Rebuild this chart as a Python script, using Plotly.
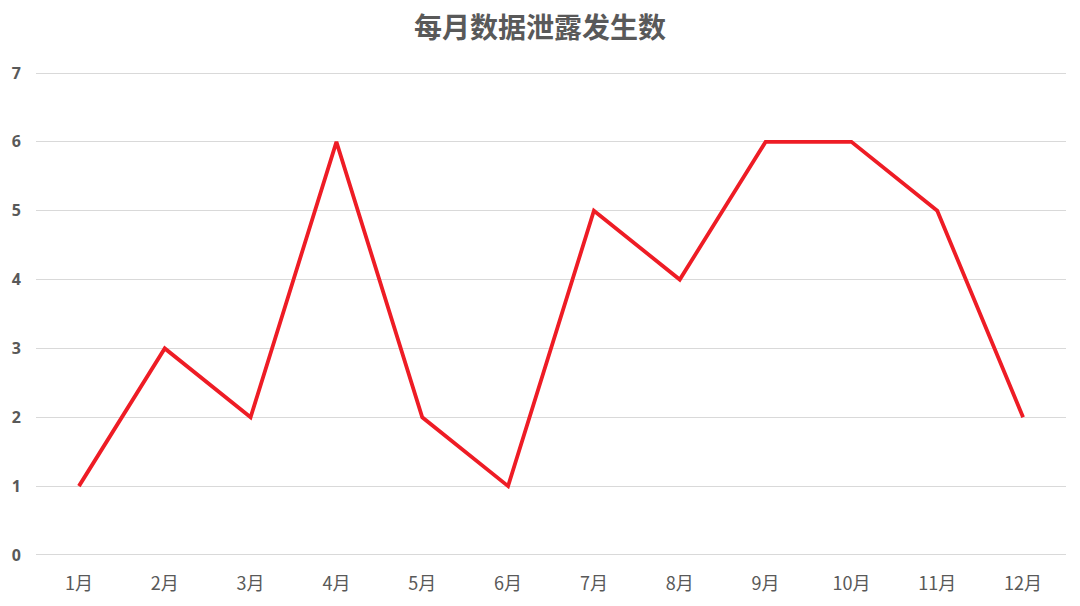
import plotly.graph_objects as go

months = ["1月", "2月", "3月", "4月", "5月", "6月", "7月", "8月", "9月", "10月", "11月", "12月"]
counts = [1, 3, 2, 6, 2, 1, 5, 4, 6, 6, 5, 2]
title_text = "每月数据泄露发生数"

fig = go.Figure()
fig.add_trace(go.Scatter(
    x=months, y=counts, mode="lines",
    line=dict(color="#ee1c25", width=3.8),
    showlegend=False,
))

fig.update_layout(
    width=1080, height=606,
    margin=dict(l=36, r=14, t=72, b=50),
    paper_bgcolor="white", plot_bgcolor="white",
    title=dict(text=title_text, x=0.5, xanchor="center", y=0.953, yanchor="middle",
               font=dict(family="Noto Sans CJK SC", size=28, color="#595959", weight="bold")),
    font=dict(family="Noto Sans CJK SC", color="#595959"),
)
fig.update_xaxes(
    type="category", range=[-0.5, 11.5], showgrid=False, zeroline=False,
    showline=False, ticks="", automargin=False, ticklabelstandoff=15,
    tickfont=dict(size=18, color="#595959"),
)
fig.update_yaxes(
    range=[-0.015, 7.015], tickvals=[0, 1, 2, 3, 4, 5, 6, 7],
    showgrid=True, gridcolor="#d9d9d9", gridwidth=1.3,
    zeroline=True, zerolinecolor="#d9d9d9", zerolinewidth=1.3,
    showline=False, ticks="", ticklabelstandoff=14, automargin=False,
    tickfont=dict(family="Open Sans", size=16, color="#595959", weight="bold"),
)

fig.write_html("out.html", config={"displayModeBar": False},
               post_script="document.body.style.margin='0';document.body.style.overflow='hidden';")
